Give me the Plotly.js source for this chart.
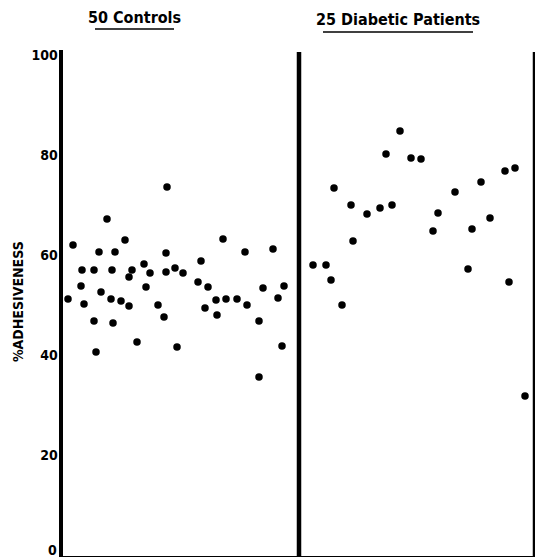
<!DOCTYPE html>
<html><head><meta charset="utf-8">
<script src="https://cdn.plot.ly/plotly-3.0.1.min.js"></script>
<style>html,body{margin:0;padding:0;background:#fff}#chart{width:548px;height:560px}</style>
</head><body><div id="chart"></div>
<script>
// Group labels
const groupLabels = ["50 Controls", "25 Diabetic Patients"];
const yTickVals = [0, 20, 40, 60, 80, 100];
const yTickText = ["0", "20", "40", "60", "80", "100"];
const yTitle = "%ADHESIVENESS";

// Controls: horizontal spread position and % adhesiveness
const controlsPos = [10,44,36,52,62,104,103,138,160,182,210,
  5,19,31,49,69,81,87,103,112,120,18,66,83,38,21,48,58,66,31,50,95,101,74,33,114,135,145,142,153,154,163,174,184,196,200,215,221,219,196];
const controlsVal = [62.0,67.2,60.6,60.6,63.0,73.6,60.4,58.8,63.2,60.6,61.2,
  51.2,57.0,57.0,57.0,57.0,58.2,56.4,56.6,57.4,56.4,53.8,55.6,53.6,52.6,50.2,51.2,50.8,49.8,46.8,46.4,50.0,47.6,42.6,40.6,41.6,54.6,53.6,49.4,51.0,48.0,51.2,51.2,50.0,46.8,53.4,51.4,53.8,41.8,35.6];

// Diabetic patients
const diabeticPos = [271,323,337,348,358,288,304,317,329,375,370,392,418,409,427,442,452,290,250,263,268,279,405,446,462];
const diabeticVal = [73.4,80.2,84.8,79.4,79.2,70.0,68.2,69.4,70.0,68.4,64.8,72.6,74.6,65.2,67.4,76.8,77.4,62.8,58.0,58.0,55.0,50.0,57.2,54.6,31.8];

const dividers = [236, 472];

const FONT = "'DejaVu Sans Condensed', 'Liberation Sans Narrow', sans-serif";

const traces = [
  {x: controlsPos, y: controlsVal, type: 'scatter', mode: 'markers',
   marker: {color: '#000', size: 7.5}, hoverinfo: 'y', showlegend: false},
  {x: diabeticPos, y: diabeticVal, type: 'scatter', mode: 'markers',
   marker: {color: '#000', size: 7.5}, hoverinfo: 'y', showlegend: false}
];

const shapes = dividers.map(d => ({type: 'line', xref: 'x', yref: 'y', x0: d, x1: d, y0: -0.3, y1: 100.6,
  line: {color: '#000', width: 4.5}}));
shapes.push({type: 'line', xref: 'x', yref: 'y', x0: 0, x1: 472, y0: -0.4, y1: -0.4, line: {color: '#000', width: 2}});
// title underlines
shapes.push({type: 'line', xref: 'paper', yref: 'paper', x0: (95-63)/472, x1: (174-63)/472, y0: 1+(50-29)/507, y1: 1+(50-29)/507, line: {color:'#000', width: 1.5}});
shapes.push({type: 'line', xref: 'paper', yref: 'paper', x0: (323-63)/472, x1: (473-63)/472, y0: 1+(50-32)/507, y1: 1+(50-32)/507, line: {color:'#000', width: 1.5}});

const annotations = [
  {text: '<b>' + groupLabels[0] + '</b>', xref: 'paper', yref: 'paper', x: (134-63)/472, y: 1+(50-18)/507,
   showarrow: false, font: {family: FONT, size: 16, color: '#000'}, xanchor: 'center', yanchor: 'middle'},
  {text: '<b>' + groupLabels[1] + '</b>', xref: 'paper', yref: 'paper', x: (398-63)/472, y: 1+(50-20)/507,
   showarrow: false, font: {family: FONT, size: 16, color: '#000'}, xanchor: 'center', yanchor: 'middle'},
  {text: '<b>' + yTitle + '</b>', xref: 'paper', yref: 'paper', x: (18-63)/472, y: 1-(302-50)/507,
   showarrow: false, textangle: -90, font: {family: FONT, size: 14, color: '#000'}, xanchor: 'center', yanchor: 'middle'},
  // the lowest tick label sits at the figure edge, so draw it here, nudged up to stay visible
  {text: '<b>' + yTickText[0] + '</b>', xref: 'paper', yref: 'y', x: -0.008, y: yTickVals[0],
   showarrow: false, font: {family: FONT, size: 14, color: '#000'}, xanchor: 'right', yanchor: 'middle', yshift: 5}
];

const layout = {
  width: 548, height: 560,
  margin: {l: 63, r: 13, t: 50, b: 3},
  paper_bgcolor: '#fff', plot_bgcolor: '#fff',
  xaxis: {range: [0, 472], showgrid: false, zeroline: false, showticklabels: false, ticks: '', showline: false, fixedrange: true},
  yaxis: {range: [-0.4, 101], tickvals: yTickVals.slice(1), ticktext: yTickText.slice(1), showgrid: false, zeroline: false,
    showline: true, linecolor: '#000', linewidth: 4.5, ticks: '', ticklabelstandoff: -2,
    tickfont: {family: FONT, size: 14, color: '#000', weight: 'bold'}, fixedrange: true},
  shapes: shapes,
  annotations: annotations
};

Plotly.newPlot('chart', traces, layout, {displayModeBar: false, staticPlot: true});
</script></body></html>
